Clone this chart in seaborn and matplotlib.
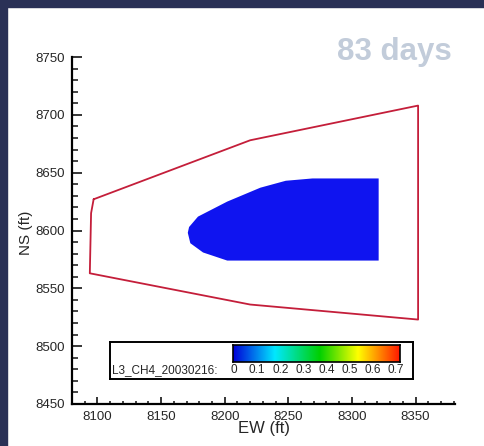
import numpy as np
import pandas as pd
import seaborn as sns
import matplotlib.pyplot as plt
from matplotlib.colors import LinearSegmentedColormap
from matplotlib.patches import Rectangle

# reservoir boundary outline (EW, NS in ft), closed
boundary_ew = [8097, 8095, 8094, 8220, 8352, 8352, 8220, 8097]
boundary_ns = [8627, 8615, 8563, 8536, 8523, 8708, 8678, 8627]

# CH4 plume outline after 83 days
plume_ew = [8321, 8269, 8248, 8228, 8202, 8179, 8172, 8171, 8173, 8183, 8202, 8321]
plume_ns = [8645, 8645, 8643, 8637, 8625, 8612, 8603, 8598, 8589, 8581, 8574, 8574]

scale_values = [0, 0.1, 0.2, 0.3, 0.4, 0.5, 0.6, 0.7]
scale_labels = ['0', '0.1', '0.2', '0.3', '0.4', '0.5', '0.6', '0.7']
scale_name = 'L3_CH4_20030216:'
time_label = '83 days'

sns.set_style('ticks')
plt.rcParams['font.family'] = ['Liberation Sans', 'DejaVu Sans']

rainbow = LinearSegmentedColormap.from_list(
    'small_rainbow',
    [(0.0, '#0000d8'), (0.25, '#00e8ff'), (0.52, '#00d000'),
     (0.75, '#ffff00'), (1.0, '#ff1800')])

fig = plt.figure(figsize=(4.84, 4.46), dpi=100)
fig.patch.set_facecolor('white')
# dark frame strips along top and left
fig.patches.append(Rectangle((0, 0), 7 / 484, 1, transform=fig.transFigure,
                             color='#2a3156', zorder=0))
fig.patches.append(Rectangle((0, 1 - 7 / 446), 1, 7 / 446, transform=fig.transFigure,
                             color='#2a3156', zorder=0))

ax = fig.add_axes([72 / 484, 1 - 404 / 446, 383 / 484, 347 / 446])

bnd = pd.DataFrame({'EW': boundary_ew, 'NS': boundary_ns})
ax.fill(plume_ew, plume_ns, color='#0f14f0', lw=0, zorder=2)
sns.lineplot(data=bnd, x='EW', y='NS', sort=False, estimator=None,
             color='#c41e3a', lw=1.3, ax=ax, zorder=3)

ax.set_xlim(8080, 8381)
ax.set_ylim(8450, 8750)
ax.set_xticks([8100, 8150, 8200, 8250, 8300, 8350])
ax.set_xticks(np.arange(8090, 8381, 10), minor=True)
ax.set_yticks([8450, 8500, 8550, 8600, 8650, 8700, 8750])
ax.set_yticks(np.arange(8450, 8751, 10), minor=True)
ax.tick_params(axis='x', which='major', direction='in', length=5, width=1.3,
               labelsize=9.5, pad=5)
ax.tick_params(axis='x', which='minor', direction='in', length=2.5, width=1.2)
ax.tick_params(axis='y', which='major', direction='in', length=7, width=1.3,
               labelsize=9.5, pad=5)
ax.tick_params(axis='y', which='minor', direction='in', length=4, width=1.2)
sns.despine(ax=ax)
for s in ['left', 'bottom']:
    ax.spines[s].set_linewidth(1.6)
    ax.spines[s].set_color('black')

ax.set_xlabel('EW (ft)', fontsize=12)
ax.set_ylabel('NS (ft)', fontsize=11)
ax.xaxis.label.set_va('center')
ax.xaxis.set_label_coords(0.5, -0.07)
ax.yaxis.label.set_va('center')
ax.yaxis.set_label_coords(-0.12, 0.493)

fig.text(452 / 484, 1 - 52 / 446, time_label, ha='right', va='center',
         fontsize=22.5, fontweight='bold', color='#c2ccda')

# color scale legend
box = fig.add_axes([110 / 484, 1 - 379 / 446, 303 / 484, 37 / 446])
box.set_xticks([])
box.set_yticks([])
for s in box.spines.values():
    s.set_linewidth(1.4)
    s.set_color('black')

bar_left, bar_w = 233 / 484, 167 / 484
cax = fig.add_axes([bar_left, 1 - 362 / 446, bar_w, 17 / 446])
grad = np.linspace(0, 1, 256)[None, :]
cax.imshow(grad, aspect='auto', cmap=rainbow, extent=[0, 0.7, 0, 1])
cax.set_xticks([])
cax.set_yticks([])
for s in cax.spines.values():
    s.set_linewidth(1.2)
    s.set_color('black')

label_y = 1 - 370 / 446
fig.text(112 / 484, label_y, scale_name, ha='left', va='center', fontsize=8.5,
         zorder=10)
for v, lab in zip(scale_values, scale_labels):
    fig.text(bar_left + 0.002 + v / 0.7 * (bar_w - 0.01), label_y, lab,
             ha='center', va='center', fontsize=8.5, zorder=10)

fig.savefig('out.png', dpi=100)
